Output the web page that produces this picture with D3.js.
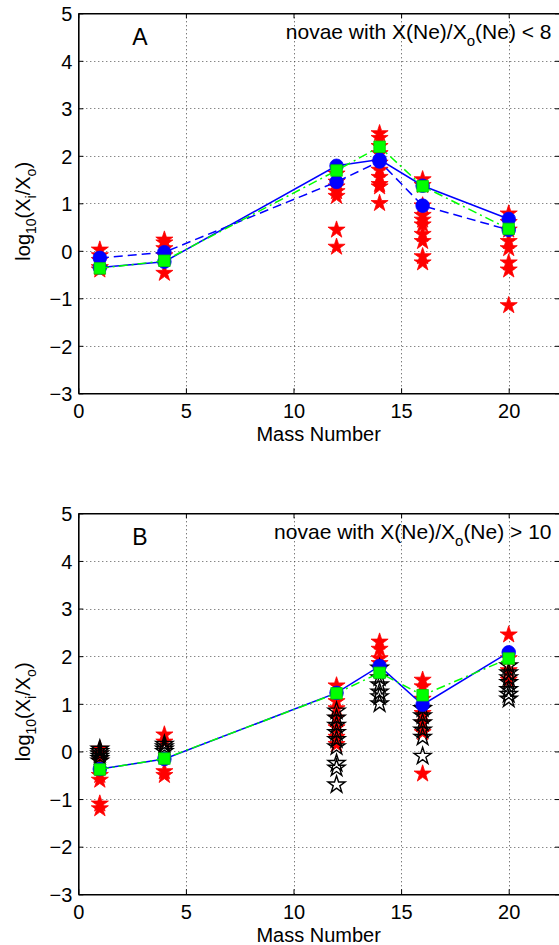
<!DOCTYPE html>
<html>
<head>
<meta charset="utf-8">
<script src="https://cdn.jsdelivr.net/npm/d3@7/dist/d3.min.js"></script>
<style>
  html, body { margin: 0; padding: 0; background: #fff; }
  svg { display: block; }
  text { font-family: "Liberation Sans", Arial, Helvetica, sans-serif; fill: #000; }
</style>
</head>
<body>
<svg id="chart" width="559" height="945"></svg>
<script>
// ---------------- DATA ----------------
const massNumbers = [1, 4, 12, 14, 16, 20];
const xTicks = [0, 5, 10, 15, 20];
const yTicks = [-3, -2, -1, 0, 1, 2, 3, 4, 5];

// Panel A: novae with X(Ne)/Xo(Ne) < 8
const aSolid  = [-0.35, -0.23, 1.79, 1.92, 1.37, 0.67];
const aDashed = [-0.15, -0.03, 1.45, 1.88, 0.95, 0.44];
const aGreen  = [-0.37, -0.21, 1.69, 2.19, 1.36, 0.46];
const aRedStars = [
  [0.02, -0.1, -0.2, -0.35, -0.4],
  [0.23, 0.17, 0.05, -0.1, -0.47],
  [1.62, 1.45, 1.35, 1.25, 1.15, 0.44, 0.08],
  [2.47, 2.37, 2.2, 2.05, 1.85, 1.7, 1.55, 1.4, 1.35, 1.0],
  [1.5, 1.38, 0.95, 0.75, 0.65, 0.55, 0.35, 0.2, -0.12, -0.25],
  [0.78, 0.6, 0.44, 0.2, 0.05, -0.25, -0.4, -1.15]
];

// Panel B: novae with X(Ne)/Xo(Ne) > 10
const bSolid = [-0.37, -0.16, 1.23, 1.79, 0.98, 2.08];
const bGreen = [-0.38, -0.15, 1.22, 1.65, 1.18, 1.95];
const bRedStars = [
  [0.05, -0.05, -0.2, -0.5, -0.6, -1.1, -1.2],
  [0.35, 0.2, -0.42, -0.5],
  [1.38, 1.05, 0.9, 0.7, 0.5, 0.3, 0.15],
  [2.3, 2.15, 1.95, 1.85],
  [1.5, 1.36, 1.1, 0.8, 0.6, 0.4, -0.47],
  [2.45, 1.95, 1.7, 1.5]
];
const bBlackStars = [
  [0.05, 0.0, -0.05, -0.1, -0.15, -0.2],
  [0.15, 0.1, 0.05, 0.0],
  [0.85, 0.7, 0.55, 0.4, 0.25, 0.1, -0.25, -0.35, -0.7],
  [1.75, 1.55, 1.4, 1.25, 1.15, 1.0],
  [0.9, 0.75, 0.6, 0.45, 0.3, -0.1],
  [1.8, 1.65, 1.55, 1.45, 1.3, 1.2, 1.1]
];

// ---------------- DRAWING ----------------
const svg = d3.select("#chart");
const left = 78.3, right = 560;
const xMax = (right - left) / 21.52;
const x = d3.scaleLinear().domain([0, xMax]).range([left, right]);

const starSize = 81 / 0.8908130915292852;
const starPath = d3.symbol().type(d3.symbolStar).size(starSize)();
const circlePath = d3.symbol().type(d3.symbolCircle).size(Math.PI * 6.8 * 6.8)();
const squarePath = d3.symbol().type(d3.symbolSquare).size(11.5 * 11.5)();
const FS = "20px";

function panel(top, bottom, cfg) {
  const y = d3.scaleLinear().domain([-3, 5]).range([bottom, top]);
  const g = svg.append("g");

  // grid
  const grid = g.append("g");
  grid.selectAll("line.gy").data(yTicks.filter(t => t > -3 && t < 5)).enter()
    .append("line")
    .attr("x1", left).attr("x2", right)
    .attr("y1", d => Math.round(y(d)) + 0.5).attr("y2", d => Math.round(y(d)) + 0.5)
    .attr("stroke", "#555").attr("stroke-width", 1).attr("stroke-dasharray", "1,3");
  grid.selectAll("line.gx").data(xTicks.filter(t => t > 0)).enter()
    .append("line")
    .attr("y1", top).attr("y2", bottom)
    .attr("x1", d => Math.round(x(d)) + 0.5).attr("x2", d => Math.round(x(d)) + 0.5)
    .attr("stroke", "#444").attr("stroke-width", 1).attr("stroke-dasharray", "1,3");

  // axes with inward ticks
  const axL = d3.axisLeft(y).tickValues(yTicks).tickSizeInner(-5).tickSizeOuter(0)
    .tickPadding(6).tickFormat(d => d < 0 ? "\u2212" + Math.abs(d) : d);
  const gl = g.append("g").attr("transform", `translate(${left},0)`).call(axL);
  const axR = d3.axisRight(y).tickValues(yTicks).tickSizeInner(-5).tickSizeOuter(0).tickFormat("");
  const gr = g.append("g").attr("transform", `translate(${right},0)`).call(axR);
  const axB = d3.axisBottom(x).tickValues(xTicks).tickSizeInner(-5).tickSizeOuter(0).tickPadding(10);
  const gb = g.append("g").attr("transform", `translate(0,${bottom})`).call(axB);
  const axT = d3.axisTop(x).tickValues(xTicks).tickSizeInner(-5).tickSizeOuter(0).tickFormat("");
  const gt = g.append("g").attr("transform", `translate(0,${top})`).call(axT);
  [gl, gr, gb, gt].forEach(a => {
    a.select(".domain").attr("stroke", "#000").attr("stroke-width", 1.6);
    a.selectAll(".tick line").attr("stroke", "#000").attr("stroke-width", 1);
    a.selectAll("text").style("font-size", FS)
      .style("font-family", '"Liberation Sans", Arial, sans-serif').attr("fill", "#000");
  });
  gl.selectAll("text").attr("dy", "0.36em");
  gb.selectAll("text").attr("dy", "0.73em");

  // stars
  const starsG = g.append("g");
  cfg.red.forEach((vals, i) => {
    starsG.selectAll(null).data(vals).enter().append("path")
      .attr("d", starPath)
      .attr("transform", d => `translate(${x(massNumbers[i])},${y(d)})`)
      .attr("fill", "#ff0000").attr("stroke", "#ff0000").attr("stroke-width", 0.8);
  });
  if (cfg.black) {
    cfg.black.forEach((vals, i) => {
      starsG.selectAll(null).data(vals).enter().append("path")
        .attr("d", starPath)
        .attr("transform", d => `translate(${x(massNumbers[i])},${y(d)})`)
        .attr("fill", "none")
        .attr("stroke", "#000").attr("stroke-width", 1.4);
    });
  }

  // lines & markers
  const line = d3.line().x((d, i) => x(massNumbers[i])).y(d => y(d));
  cfg.series.forEach(s => {
    g.append("path").datum(s.values).attr("d", line)
      .attr("fill", "none").attr("stroke", s.color).attr("stroke-width", 1.5)
      .attr("stroke-dasharray", s.dash);
    g.selectAll(null).data(s.values).enter().append("path")
      .attr("d", s.marker)
      .attr("transform", (d, i) => `translate(${x(massNumbers[i])},${y(d)})`)
      .attr("fill", s.color).attr("stroke", s.edge).attr("stroke-width", 0.8);
  });

  // panel letter
  g.append("text").attr("x", 140).attr("y", top + 32).attr("text-anchor", "middle")
    .style("font-size", "23px").text(cfg.letter);

  // title annotation
  const t = g.append("text").attr("x", 551.5).attr("y", top + 26).attr("text-anchor", "end")
    .style("font-size", "21px");
  t.append("tspan").text("novae with X(Ne)/X");
  t.append("tspan").attr("dy", 7).style("font-size", "15px").text("o");
  t.append("tspan").attr("dy", -7).text("(Ne) " + cfg.cond);

  // x label
  g.append("text").attr("x", (left + right) / 2 - 0.5).attr("y", bottom + 47.5)
    .attr("text-anchor", "middle").style("font-size", FS).text("Mass Number");

  // y label
  const yl = g.append("text")
    .attr("transform", `translate(30,${(top + bottom) / 2 + 8}) rotate(-90)`)
    .attr("text-anchor", "middle").style("font-size", FS);
  yl.append("tspan").text("log");
  yl.append("tspan").attr("dy", 6).style("font-size", "14px").text("10");
  yl.append("tspan").attr("dy", -6).text("(X");
  yl.append("tspan").attr("dy", 6).style("font-size", "14px").text("i");
  yl.append("tspan").attr("dy", -6).text("/X");
  yl.append("tspan").attr("dy", 6).style("font-size", "14px").text("o");
  yl.append("tspan").attr("dy", -6).text(")");
}

panel(13.3, 393.3, {
  letter: "A", cond: "< 8",
  red: aRedStars,
  series: [
    { values: aSolid, color: "#0000ff", dash: null, marker: circlePath, edge: "#0000ff" },
    { values: aDashed, color: "#0000ff", dash: "9,5", marker: circlePath, edge: "#0000ff" },
    { values: aGreen, color: "#00ff00", dash: "9,4,2,4", marker: squarePath, edge: "#00cc00" }
  ]
});

panel(513.3, 894.3, {
  letter: "B", cond: "> 10",
  red: bRedStars, black: bBlackStars,
  series: [
    { values: bSolid, color: "#0000ff", dash: null, marker: circlePath, edge: "#0000ff" },
    { values: bGreen, color: "#00ff00", dash: "9,4,2,4", marker: squarePath, edge: "#00cc00" }
  ]
});
</script>
</body>
</html>
